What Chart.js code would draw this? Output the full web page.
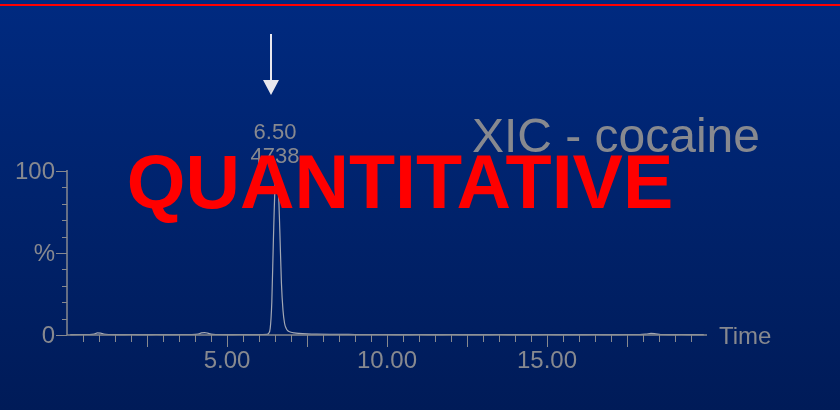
<!DOCTYPE html>
<html>
<head>
<meta charset="utf-8">
<script src="https://cdn.jsdelivr.net/npm/chart.js"></script>
<style>
  body { margin: 0; background: #00236a; }
  #wrap { width: 840px; height: 410px; }
</style>
</head>
<body>
<div id="wrap"><canvas id="myChart" width="840" height="410"></canvas></div>
<script>
// retention time (min) and relative intensity (%)
var times = [0.1, 0.4, 0.7, 0.85, 0.95, 1.05, 1.15, 1.3, 1.6, 2.0, 2.4, 2.8, 3.2, 3.6, 3.9, 4.1, 4.2, 4.3, 4.4, 4.5, 4.7, 5.0, 5.4, 5.8, 6.1, 6.25,
  6.3, 6.35, 6.4, 6.45, 6.5, 6.55, 6.6, 6.65, 6.7, 6.75, 6.8, 6.85, 6.9, 7.0, 7.1, 7.25, 7.5, 7.8, 8.2, 8.6, 9.0, 9.5, 10.0,
  10.5, 11.0, 11.5, 12.0, 12.5, 13.0, 13.5, 14.0, 14.5, 15.0, 15.5, 16.0, 16.5, 17.0, 17.5, 17.9, 18.1, 18.25, 18.4, 18.55, 18.8, 19.2, 19.6, 19.9];
var intensity = [0.2, 0.3, 0.3, 0.6, 1.3, 1.2, 0.6, 0.3, 0.2, 0.3, 0.2, 0.3, 0.2, 0.3, 0.3, 0.6, 1.3, 1.5, 1.1, 0.5, 0.3, 0.2, 0.3, 0.2, 0.3, 0.4,
  1.0, 4, 20, 58, 90, 100, 92, 64, 32, 15, 7, 4, 2.6, 1.7, 1.3, 1.0, 0.7, 0.5, 0.4, 0.4, 0.3, 0.3, 0.3,
  0.2, 0.3, 0.2, 0.3, 0.2, 0.2, 0.3, 0.2, 0.2, 0.3, 0.2, 0.2, 0.3, 0.2, 0.3, 0.3, 0.6, 1.0, 0.7, 0.3, 0.2, 0.3, 0.2, 0.2];

var xTickLabels = [5, 10, 15];
var yTickValues = [0, 50, 100];
var yTickLabels = ['0', '%', '100'];
var peakTime = 6.50;
var peakArea = 4738;
var chartTitle = 'XIC - cocaine';
var stampText = 'QUANTITATIVE';
var xAxisTitle = 'Time';

var grey = '#87898f';
var fontName = '"Liberation Sans", Arial, sans-serif';

var points = [];
for (var i = 0; i < times.length; i++) {
  points.push({x: times[i], y: intensity[i]});
}

var chromPlugin = {
  id: 'chrom',
  beforeDraw: function(chart) {
    var c = chart.ctx;
    var g = c.createLinearGradient(0, 0, 0, chart.height);
    g.addColorStop(0, '#002a80');
    g.addColorStop(1, '#001b58');
    c.save();
    c.fillStyle = g;
    c.fillRect(0, 0, chart.width, chart.height);
    c.fillStyle = '#ff0000';
    c.fillRect(0, 4, chart.width, 2);
    c.restore();
  },
  afterDatasetsDraw: function(chart) {
    var c = chart.ctx;
    var xs = chart.scales.x, ys = chart.scales.y;
    var x0 = xs.getPixelForValue(0), x1 = xs.getPixelForValue(20);
    var y0 = ys.getPixelForValue(0), y1 = ys.getPixelForValue(100);
    c.save();
    c.strokeStyle = grey;
    c.lineWidth = 1.5;
    c.beginPath();
    c.moveTo(x0, y1 - 1);
    c.lineTo(x0, y0);
    c.lineTo(x1, y0);
    c.stroke();

    // y ticks every 10 %
    c.lineWidth = 1;
    for (var v = 0; v <= 100; v += 10) {
      var py = Math.round(ys.getPixelForValue(v)) + 0.5;
      var len = (v % 50 == 0) ? 11 : 5;
      c.beginPath();
      c.moveTo(x0 - len, py);
      c.lineTo(x0, py);
      c.stroke();
    }
    // x ticks every 0.5 min
    for (var t = 0.5; t < 20; t += 0.5) {
      var px = Math.round(xs.getPixelForValue(t)) + 0.5;
      var l = (t % 2.5 == 0) ? 12 : 7;
      c.beginPath();
      c.moveTo(px, y0);
      c.lineTo(px, y0 + l);
      c.stroke();
    }

    c.fillStyle = grey;
    c.font = '24px ' + fontName;
    c.textBaseline = 'middle';
    c.textAlign = 'center';
    for (var k = 0; k < xTickLabels.length; k++) {
      c.fillText(xTickLabels[k].toFixed(2), xs.getPixelForValue(xTickLabels[k]), y0 + 26);
    }
    c.textAlign = 'right';
    for (var m = 0; m < yTickValues.length; m++) {
      c.fillText(yTickLabels[m], x0 - 12, ys.getPixelForValue(yTickValues[m]) + 1);
    }
    c.textAlign = 'left';
    c.fillText(xAxisTitle, x1 + 12, y0 + 2);

    // title
    c.font = '48px ' + fontName;
    c.textAlign = 'right';
    c.textBaseline = 'alphabetic';
    c.fillText(chartTitle, 760, 152);

    // peak annotation
    var pk = xs.getPixelForValue(peakTime);
    c.font = '22px ' + fontName;
    c.textAlign = 'center';
    c.textBaseline = 'middle';
    c.fillText(peakTime.toFixed(2), pk, 133);
    c.fillText(String(peakArea), pk, 157);

    // arrow
    c.strokeStyle = '#e8e8ee';
    c.fillStyle = '#e8e8ee';
    c.lineWidth = 2;
    c.beginPath();
    c.moveTo(pk - 4, 34);
    c.lineTo(pk - 4, 82);
    c.stroke();
    c.beginPath();
    c.moveTo(pk - 12, 80);
    c.lineTo(pk + 4, 80);
    c.lineTo(pk - 4, 95);
    c.closePath();
    c.fill();
    c.restore();
  },
  afterDraw: function(chart) {
    var c = chart.ctx;
    c.save();
    c.fillStyle = '#ff0000';
    c.font = 'bold 75.5px ' + fontName;
    c.textAlign = 'center';
    c.textBaseline = 'alphabetic';
    c.fillText(stampText, 400, 208);
    c.restore();
  }
};

var ctx = document.getElementById('myChart').getContext('2d');
var myChart = new Chart(ctx, {
  type: 'line',
  data: {
    datasets: [{
      label: chartTitle,
      data: points,
      borderColor: '#a3a8b3',
      borderWidth: 1.2,
      pointRadius: 0,
      fill: false,
      cubicInterpolationMode: 'monotone',
      clip: false
    }]
  },
  options: {
    responsive: false,
    animation: false,
    layout: { padding: { left: 67, right: 133, top: 171, bottom: 75 } },
    plugins: { legend: { display: false }, tooltip: { enabled: false } },
    scales: {
      x: { type: 'linear', min: 0, max: 20, display: false },
      y: { min: 0, max: 100, display: false }
    }
  },
  plugins: [chromPlugin]
});
</script>
</body>
</html>
